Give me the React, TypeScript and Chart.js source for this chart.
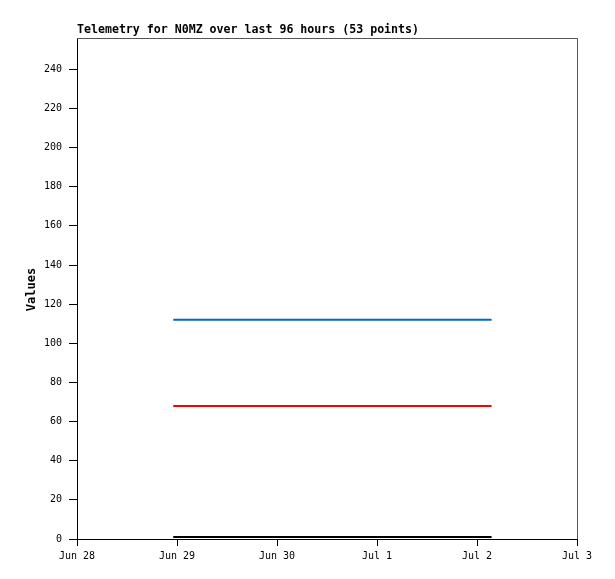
import React, { useEffect, useRef } from "react";
import { Chart, registerables } from "chart.js";

Chart.register(...registerables);

const titleText = "Telemetry for N0MZ over last 96 hours (53 points)";
const yAxisTitle = "Values";
const xTickLabels = ["Jun 28", "Jun 29", "Jun 30", "Jul 1", "Jul 2", "Jul 3"];
const yTickValues = [0, 20, 40, 60, 80, 100, 120, 140, 160, 180, 200, 220, 240];

// hours since Jun 28 00:00
const sampleHours = [
  23.1, 24.6, 26.1, 27.6, 29.0, 30.5, 32.0, 33.5, 34.9, 36.4, 37.9, 39.4, 40.8,
  42.3, 43.8, 45.3, 46.7, 48.2, 49.7, 51.2, 52.6, 54.1, 55.6, 57.1, 58.5, 60.0,
  61.5, 63.0, 64.4, 65.9, 67.4, 68.9, 70.3, 71.8, 73.3, 74.8, 76.2, 77.7, 79.2,
  80.7, 82.1, 83.6, 85.1, 86.6, 88.0, 89.5, 91.0, 92.5, 93.9, 95.4, 96.9, 98.0,
  99.5,
];

const blueValues = [
  112, 112, 112, 112, 112, 112, 112, 112, 112, 112, 112, 112, 112, 112, 112, 112,
  112, 112, 112, 112, 112, 112, 112, 112, 112, 112, 112, 112, 112, 112, 112, 112,
  112, 112, 112, 112, 112, 112, 112, 112, 112, 112, 112, 112, 112, 112, 112, 112,
  112, 112, 112, 112, 112,
];
const redValues = [
  68, 68, 68, 68, 68, 68, 68, 68, 68, 68, 68, 68, 68, 68, 68, 68, 68, 68, 68, 68,
  68, 68, 68, 68, 68, 68, 68, 68, 68, 68, 68, 68, 68, 68, 68, 68, 68, 68, 68, 68,
  68, 68, 68, 68, 68, 68, 68, 68, 68, 68, 68, 68, 68,
];
const blackValues = [
  1, 1, 1, 1, 1, 1, 1, 1, 1, 1, 1, 1, 1, 1, 1, 1, 1, 1, 1, 1, 1, 1, 1, 1, 1, 1,
  1, 1, 1, 1, 1, 1, 1, 1, 1, 1, 1, 1, 1, 1, 1, 1, 1, 1, 1, 1, 1, 1, 1, 1, 1, 1, 1,
];

const MONO = "'DejaVu Sans Mono', 'Liberation Mono', monospace";

function pts(vals: number[]) {
  return sampleHours.map((h, i) => ({ x: h, y: vals[i] }));
}

const decorPlugin = {
  id: "decor",
  afterDraw(chart: any) {
    const { ctx, chartArea } = chart;
    ctx.save();
    ctx.strokeStyle = "#555555";
    ctx.lineWidth = 1;
    ctx.beginPath();
    ctx.moveTo(chartArea.left, chartArea.top + 0.5);
    ctx.lineTo(chartArea.right + 0.5, chartArea.top + 0.5);
    ctx.lineTo(chartArea.right + 0.5, chartArea.bottom);
    ctx.stroke();
    ctx.fillStyle = "#000000";
    ctx.font = "bold 11.6px " + MONO;
    ctx.textAlign = "left";
    ctx.textBaseline = "alphabetic";
    ctx.fillText(titleText, chartArea.left, chartArea.top - 5);
    ctx.translate(32, (chartArea.top + chartArea.bottom) / 2 + 1);
    ctx.rotate(-Math.PI / 2);
    ctx.textAlign = "center";
    ctx.textBaseline = "middle";
    ctx.font = "bold 12px " + MONO;
    ctx.fillText(yAxisTitle, 0, 0);
    ctx.restore();
  },
};

export default function App() {
  const ref = useRef<HTMLCanvasElement>(null);
  useEffect(() => {
    if (!ref.current) return;
    const chart = new Chart(ref.current, {
      type: "line",
      data: {
        datasets: [
          { data: pts(blackValues), borderColor: "#000000", borderWidth: 2, pointRadius: 0, clip: false },
          { data: pts(redValues), borderColor: "#ff0000", borderWidth: 2, pointRadius: 0 },
          { data: pts(blueValues), borderColor: "#0066cc", borderWidth: 2, pointRadius: 0 },
        ],
      } as any,
      options: {
        animation: false,
        responsive: false,
        layout: { padding: { left: 0, top: 38, right: 38, bottom: 0 } },
        plugins: { legend: { display: false }, tooltip: { enabled: false }, title: { display: false } },
        scales: {
          x: {
            type: "linear",
            min: 0,
            max: 120,
            afterBuildTicks: (s: any) => {
              s.ticks = xTickLabels.map((_, i) => ({ value: i * 24 }));
            },
            afterFit: (s: any) => {
              s.height = 40;
            },
            ticks: {
              autoSkip: false,
              maxRotation: 0,
              padding: 4,
              color: "#000000",
              font: { family: MONO, size: 10 },
              callback: (v: any) => xTickLabels[Math.round(Number(v) / 24)],
            },
            grid: { drawOnChartArea: false, drawTicks: true, tickLength: 7, color: "#000000" },
            border: { display: true, color: "#000000", width: 1 },
          },
          y: {
            type: "linear",
            min: 0,
            max: 256,
            afterBuildTicks: (s: any) => {
              s.ticks = yTickValues.map((v) => ({ value: v }));
            },
            afterFit: (s: any) => {
              s.width = 77;
            },
            ticks: {
              autoSkip: false,
              padding: 7,
              color: "#000000",
              font: { family: MONO, size: 10 },
            },
            grid: { drawOnChartArea: false, drawTicks: true, tickLength: 8, color: "#000000" },
            border: { display: true, color: "#000000", width: 1 },
          },
        },
      } as any,
      plugins: [decorPlugin],
    });
    return () => chart.destroy();
  }, []);
  return (
    <div style={{ position: "fixed", left: 0, top: 0, width: 615, height: 579, background: "#ffffff" }}>
      <canvas ref={ref} width={615} height={579} style={{ display: "block" }} />
    </div>
  );
}
